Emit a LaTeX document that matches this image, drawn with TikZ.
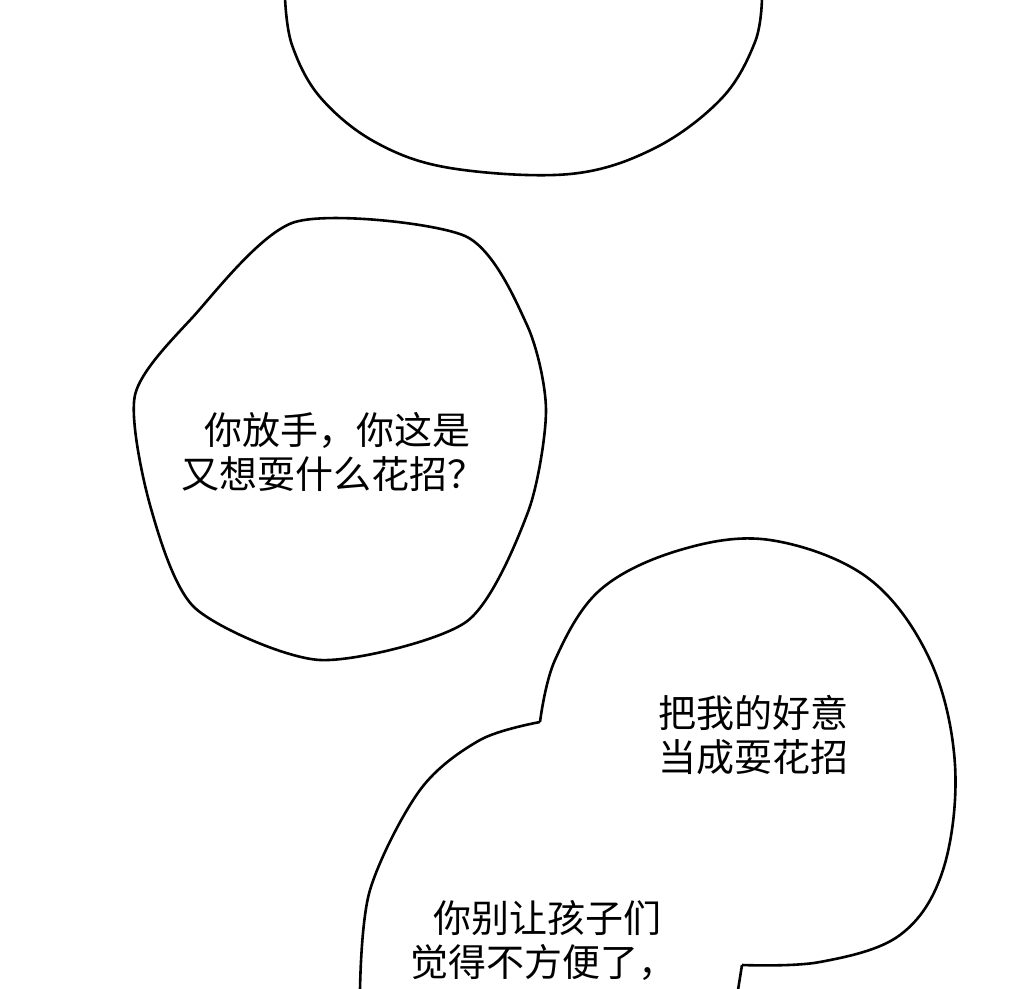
\documentclass[tikz,border=0pt]{standalone}
\usepackage{fontspec}
\newfontfamily\cjk{Noto Sans CJK SC}
\begin{document}
\begin{tikzpicture}[x=1pt,y=-1pt,
  bubble/.style={draw, line width=2.6pt, line join=round},
  speech/.style={font=\cjk\fontsize{38}{44}\selectfont, align=left, inner sep=0pt}
  ]
  \useasboundingbox[fill=white] (0,0) rectangle (1020,988);
  % Bubbles
  \draw[bubble] plot[smooth, tension=0.6] coordinates {(285,-2) (292,45) (320,97) (375,142) (450,168) (570,174) (655,148) (722,98) (755,42) (762,-2)};
  \draw[bubble] plot[smooth cycle, tension=0.45] coordinates {(295,222) (465,236) (527,325) (546,410) (528,512) (466,622) (320,660) (195,608) (150,505) (135,395) (192,318)};
  \draw[bubble] plot[smooth, tension=0.55] coordinates {(360,990) (370,890) (420,790) (480,740) (540,722)};
  \draw[bubble] plot[smooth, tension=0.6] coordinates {(540,722) (555,660) (600,590) (680,550) (770,540) (868,578) (930,660) (955,765) (943,870) (900,935) (820,962) (742,965)};
  \draw[bubble] (742,965) -- (738,990);
  % Texts
  \node[speech, align=center] (q) at (333,452) {\ 你放手，你这是\\又想耍什么花招？};
  \node[speech] (a) at (753,735) {把我的好意\\当成耍花招};
  \node[speech, align=center] (b) at (543,940) {\ 你别让孩子们\\觉得不方便了，};
\end{tikzpicture}
\end{document}
